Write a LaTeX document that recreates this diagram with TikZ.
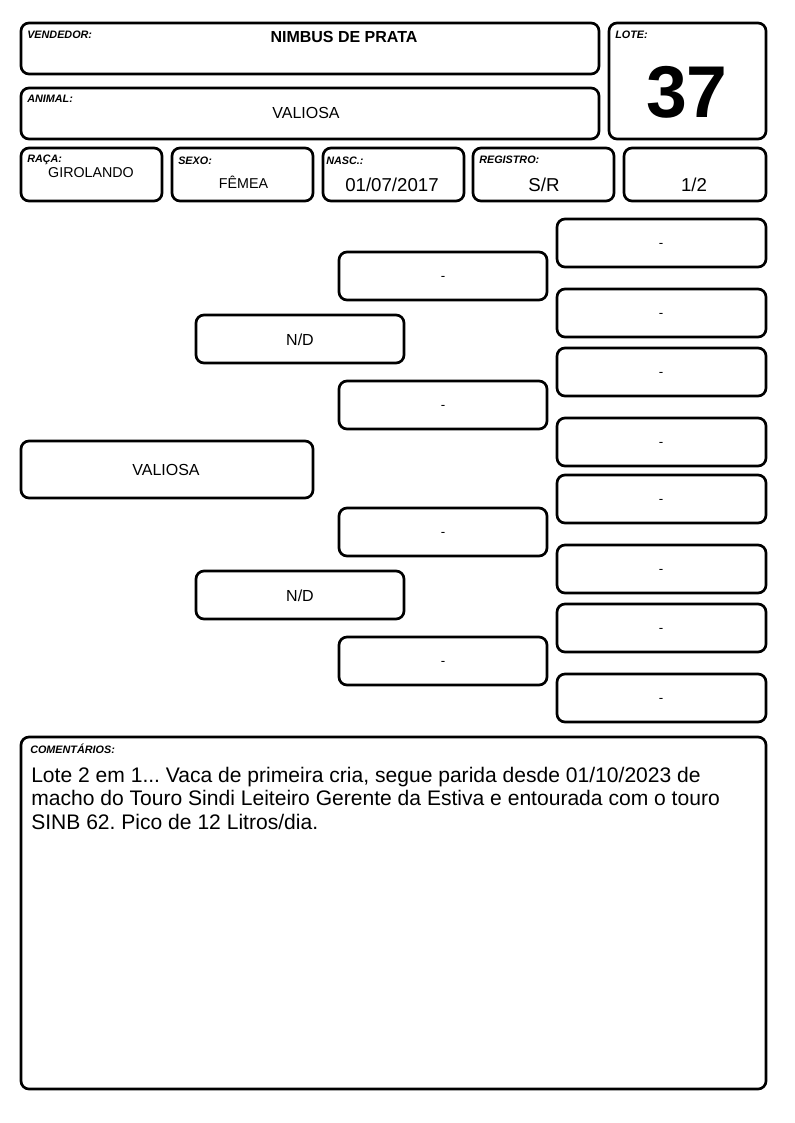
\documentclass[tikz,border=0pt]{standalone}
\usepackage{fontspec}
\setmainfont{Liberation Sans}
\usepackage{xcolor}
\frenchspacing

\tikzset{
    cell/.style={line width=2pt, rounded corners=6pt},
    lbl/.style={anchor=base west, inner sep=0pt, font=\fontsize{8.1}{9}\selectfont\bfseries\itshape},
    val/.style={anchor=base, inner sep=0pt, font=\fontsize{12}{14}\selectfont},
    smallval/.style={anchor=base, inner sep=0pt, font=\fontsize{10.7}{12}\selectfont},
    bigval/.style={anchor=base, inner sep=0pt, font=\fontsize{14}{16}\selectfont},
    ped/.style={inner sep=0pt, font=\fontsize{12}{13}\selectfont},
    dashtxt/.style={anchor=base, inner sep=0pt, font=\fontsize{10}{12}\selectfont}
}

\begin{document}
\begin{tikzpicture}[x=0.75pt, y=-0.75pt]
    \useasboundingbox (0,0) rectangle (794,1123);

    % header
    \draw[cell] (21,23) rectangle (599,74);
    \node[lbl] (vendlbl) at (27,39) {VENDEDOR:};
    \node[val, font=\fontsize{12}{14}\selectfont\bfseries] (vend) at (344,43) {NIMBUS DE PRATA};
    \draw[cell] (21,88) rectangle (599,139);
    \node[lbl] (animlbl) at (27,103) {ANIMAL:};
    \node[val] (anim) at (306,119) {VALIOSA};
    \draw[cell] (609,23) rectangle (766,139);
    \node[lbl] (lotelbl) at (615,39) {LOTE:};
    \node[anchor=base, inner sep=0pt, font=\fontsize{55}{60}\selectfont\bfseries] (lote) at (687,118) {37};

    % second row
    \draw[cell] (21,148) rectangle (162,201);
    \node[lbl] (racalbl) at (27,163) {RAÇA:};
    \node[smallval] (raca) at (91,178) {GIROLANDO};
    \draw[cell] (172,148) rectangle (313,201);
    \node[lbl] (sexolbl) at (178,165) {SEXO:};
    \node[smallval] (sexo) at (243.5,189) {FÊMEA};
    \draw[cell] (323,148) rectangle (464,201);
    \node[lbl] (nasclbl) at (326,165) {NASC.:};
    \node[bigval] (nasc) at (392,192) {01/07/2017};
    \draw[cell] (473,148) rectangle (614,201);
    \node[lbl] (reglbl) at (479,164) {REGISTRO:};
    \node[bigval] (reg) at (544,192) {S/R};
    \draw[cell] (624,148) rectangle (766,201);
    \node[bigval] (frac) at (694,192) {1/2};

    % pedigree
    \draw[cell] (21,441) rectangle (313,498);
    \node[ped] (animal) at (166,470) {VALIOSA};
    \draw[cell] (196,315) rectangle (404,363);
    \node[ped] (pai) at (300,340) {N/D};
    \draw[cell] (196,571) rectangle (404,619);
    \node[ped] (mae) at (300,596) {N/D};
    \foreach \t/\b [count=\i] in {252/300, 381/429, 508/556, 637/685}{
        \draw[cell] (339,\t) rectangle (547,\b);
        \node[dashtxt] (avo\i) at (443,{(\t+\b)/2+4.5}) {-};
    }
    \foreach \t/\b [count=\i] in {219/267, 289/337, 348/396, 418/466, 475/523, 545/593, 604/652, 674/722}{
        \draw[cell] (557,\t) rectangle (766,\b);
        \node[dashtxt] (bis\i) at (661,{(\t+\b)/2+4.5}) {-};
    }

    % comments
    \draw[cell] (21,737) rectangle (766,1089);
    \node[lbl] (comlbl) at (30,753) {COMENTÁRIOS:};
    \node[anchor=north west, inner sep=0pt, align=left, font=\fontsize{15.8}{17.5}\selectfont] (com) at (31,767)
        {Lote 2 em 1... Vaca de primeira cria, segue parida desde 01/10/2023 de\\
         macho do Touro Sindi Leiteiro Gerente da Estiva e entourada com o touro\\
         SINB 62. Pico de 12 Litros/dia.};
\end{tikzpicture}
\end{document}
